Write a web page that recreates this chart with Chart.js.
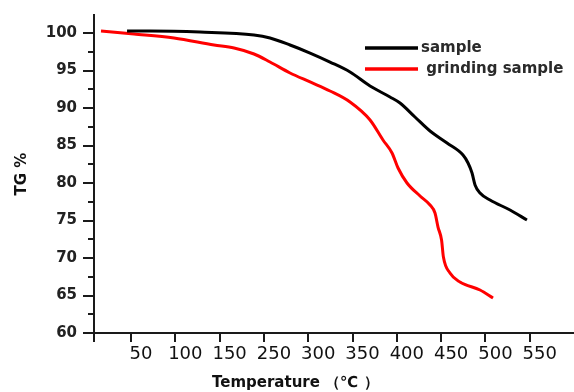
<!DOCTYPE html>
<html>
<head>
<meta charset="utf-8">
<script src="https://cdn.jsdelivr.net/npm/chart.js@4/dist/chart.umd.min.js"></script>
<style>
  html, body { margin: 0; padding: 0; background: #fff; }
  #wrap { width: 574px; height: 392px; }
</style>
</head>
<body>
<div id="wrap"><canvas id="c" width="574" height="392"></canvas></div>
<script>
// ---- data (x in axis units) ----
const sampleTemp = [45.5, 71.4, 127.9, 188.8, 206.9, 229.5, 252.1, 274.6, 297.2, 319.8, 342.3, 353.6, 370.5, 387.5, 406.7, 424.7, 430.4, 434.9, 438.3, 443.9, 455.2, 477.8, 496.9];
const sampleTG   = [100.27, 100.27, 100.13, 99.73, 99.33, 98.4, 97.33, 96.13, 94.8, 92.93, 91.47, 90.67, 88.8, 86.93, 85.33, 83.73, 82.67, 81.33, 79.73, 78.67, 77.73, 76.4, 75.07];
const grindTemp  = [16.1, 53.4, 98.5, 143.7, 166.3, 188.8, 206.9, 229.5, 252.1, 274.6, 297.2, 319.8, 334.4, 344.6, 351.4, 361.5, 376.2, 387.5, 393.1, 396.5, 400.5, 402.6, 410.0, 421.3, 443.9, 458.6];
const grindTG    = [100.27, 99.87, 99.33, 98.4, 98.0, 97.2, 96.13, 94.67, 93.47, 92.27, 90.8, 88.4, 85.73, 84.0, 82.0, 80.0, 78.27, 77.07, 76.0, 74.13, 72.4, 70.13, 68.0, 66.8, 65.73, 64.67];
const seriesLabels = ['sample', ' grinding sample'];

const xTickValues = [50, 100, 150, 200, 250, 300, 350, 400, 450, 500];
const xTickLabels = ['50', '100', '150', '250', '300', '350', '400', '450', '500', '550'];
const yTickValues = [60, 65, 70, 75, 80, 85, 90, 95, 100];
const yMinorTicks = [62.5, 67.5, 72.5, 77.5, 82.5, 87.5, 92.5, 97.5];
const xTitle = 'Temperature \uFF08\u2103 \uFF09';
const yTitle = 'TG %';

const X_MIN = 8.2, X_MAX = 550, Y_MIN = 60, Y_MAX = 102.4;
const AXIS = '#1a1a1a';

const toPts = (xs, ys) => xs.map((x, i) => ({ x, y: ys[i] }));

const extras = {
  id: 'extras',
  afterDraw(chart) {
    const { ctx, scales: { x, y }, chartArea } = chart;
    ctx.save();
    // minor y ticks
    ctx.strokeStyle = AXIS;
    ctx.lineWidth = 2;
    yMinorTicks.forEach(v => {
      const py = Math.round(y.getPixelForValue(v));
      ctx.beginPath();
      ctx.moveTo(chartArea.left - 6, py);
      ctx.lineTo(chartArea.left, py);
      ctx.stroke();
    });
    // x title
    ctx.fillStyle = '#111';
    ctx.font = 'bold 15px "DejaVu Sans"';
    ctx.textBaseline = 'middle';
    ctx.textAlign = 'left';
    ctx.fillText(xTitle, 212, 383);
    // legend
    const lx0 = 365, lx1 = 418;
    const rows = [48, 69];
    const textX = [421, 421];
    chart.data.datasets.forEach((ds, i) => {
      ctx.strokeStyle = ds.borderColor;
      ctx.lineWidth = 3.5;
      ctx.beginPath();
      ctx.moveTo(lx0, rows[i]);
      ctx.lineTo(lx1, rows[i]);
      ctx.stroke();
      ctx.fillStyle = '#2a2a2a';
      ctx.font = 'bold 15px "DejaVu Sans"';
      ctx.textAlign = 'left';
      ctx.textBaseline = 'middle';
      ctx.fillText(ds.label, textX[i], rows[i]);
    });
    ctx.restore();
  }
};

new Chart(document.getElementById('c'), {
  type: 'line',
  data: {
    datasets: [
      { label: seriesLabels[0], data: toPts(sampleTemp, sampleTG), borderColor: '#000000', borderWidth: 3, pointRadius: 0, cubicInterpolationMode: 'monotone' },
      { label: seriesLabels[1], data: toPts(grindTemp, grindTG), borderColor: '#ff0000', borderWidth: 3, pointRadius: 0, cubicInterpolationMode: 'monotone' }
    ]
  },
  options: {
    responsive: false,
    animation: false,
    devicePixelRatio: 1,
    layout: { padding: { top: 15, right: 0, left: 0, bottom: 0 } },
    plugins: { legend: { display: false }, tooltip: { enabled: false } },
    scales: {
      x: {
        type: 'linear',
        min: X_MIN, max: X_MAX,
        afterBuildTicks: s => { s.ticks = [X_MIN].concat(xTickValues).map(v => ({ value: v })); },
        afterFit: s => { s.height = 59; },
        grid: { drawOnChartArea: false, drawTicks: true, tickLength: 9, color: AXIS, lineWidth: 2 },
        border: { display: true, color: AXIS, width: 2 },
        ticks: {
          autoSkip: false, maxRotation: 0, padding: 2, labelOffset: 10,
          color: '#111',
          font: { family: 'DejaVu Sans', size: 18 },
          callback: v => { const i = xTickValues.indexOf(v); return i < 0 ? '' : xTickLabels[i]; }
        }
      },
      y: {
        type: 'linear',
        min: Y_MIN, max: Y_MAX,
        afterBuildTicks: s => { s.ticks = yTickValues.map(v => ({ value: v })); },
        afterFit: s => { s.width = 94; },
        grid: { drawOnChartArea: false, drawTicks: true, tickLength: 11, color: AXIS, lineWidth: 2 },
        border: { display: true, color: AXIS, width: 2 },
        ticks: {
          autoSkip: false, padding: 6,
          color: '#222',
          font: { family: 'DejaVu Sans', size: 15, weight: 'bold' },
          callback: v => String(v)
        },
        title: {
          display: true, text: yTitle, color: '#111',
          font: { family: 'DejaVu Sans', size: 15, weight: 'bold' },
          padding: { top: 13, bottom: 0 }
        }
      }
    }
  },
  plugins: [extras]
});
</script>
</body>
</html>
